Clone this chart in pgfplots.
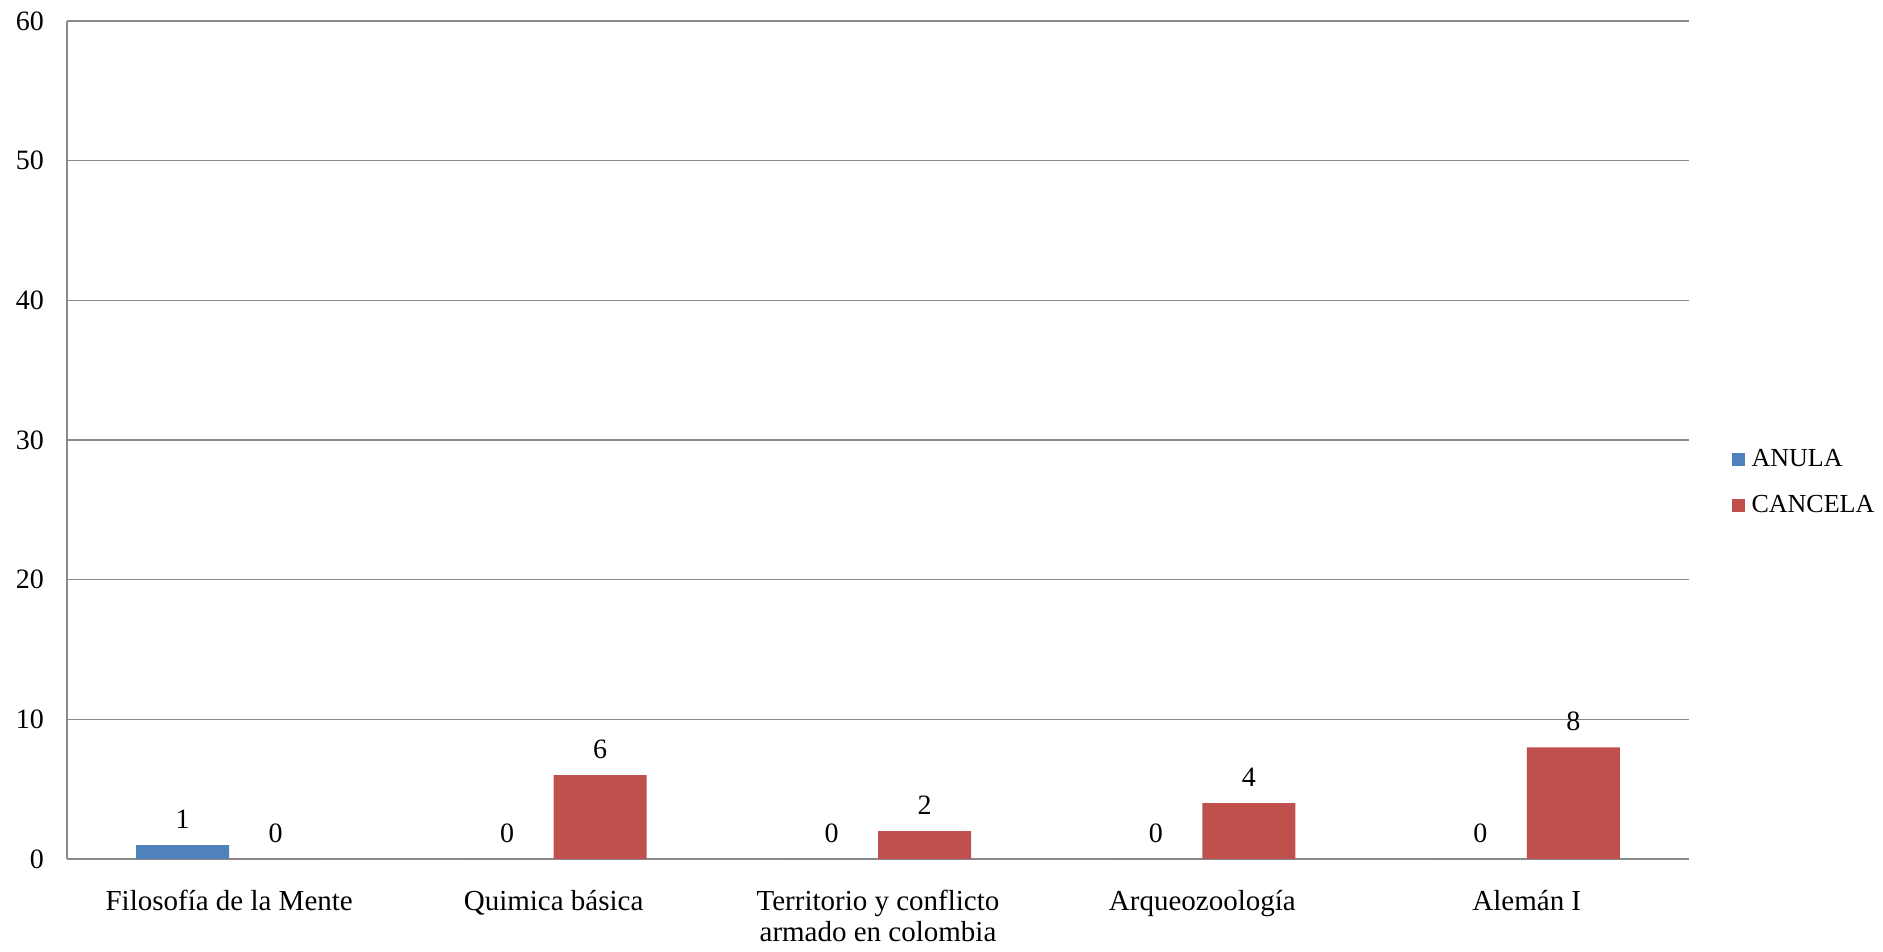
\documentclass[border=0pt]{standalone}
\usepackage{fontspec}
\setmainfont{Liberation Serif}
\usepackage{pgfplots}
\pgfplotsset{compat=1.18}
\definecolor{anula}{HTML}{4F81BD}
\definecolor{cancela}{HTML}{C0504D}
\definecolor{gridgray}{HTML}{8A8A8A}
\begin{document}
\begin{tikzpicture}
\path (-33.5pt,-46.5pt) rectangle (908pt,429.5pt);
\begin{axis}[
  at={(0pt,0pt)}, anchor=south west,
  scale only axis, width=811pt, height=419pt,
  ymin=0, ymax=60, ytick={0,10,...,60},
  xmin=-0.5, xmax=4.5, xtick={0,1,2,3,4},
  xticklabels={Filosofía de la Mente, Quimica básica, {Territorio y conflicto\\armado en colombia}, Arqueozoología, Alemán I},
  ybar=0pt, bar width=46.5pt,
  axis x line*=bottom, axis y line*=left,
  major tick length=0pt,
  ymajorgrids, grid style={gridgray, line width=0.75pt},
  axis line style={gridgray, line width=0.75pt},
  yticklabel style={font=\fontsize{14}{16}\selectfont, anchor=east, xshift=-8pt},
  xticklabel style={font=\fontsize{14.5}{15.5}\selectfont, align=center, anchor=north, yshift=-12pt},
  /pgf/number format/assume math mode=true,
  nodes near coords,
  every node near coord/.append style={anchor=center, yshift=13pt, font=\fontsize{14}{15}\selectfont},
  legend style={at={(1.026,0.449)}, anchor=west, draw=none, fill=none,
    font=\fontsize{13}{15}\selectfont, row sep=9pt, inner sep=0pt},
  legend cell align=left,
]
\addplot[fill=anula, draw=none, legend image code/.code={\fill[anula] (0pt,-3.25pt) rectangle (6.5pt,3.25pt); \path (0pt,0pt) -- (8pt,0pt);}]
  coordinates {(0,1) (1,0) (2,0) (3,0) (4,0)};
\addplot[fill=cancela, draw=none, legend image code/.code={\fill[cancela] (0pt,-3.25pt) rectangle (6.5pt,3.25pt); \path (0pt,0pt) -- (8pt,0pt);}]
  coordinates {(0,0) (1,6) (2,2) (3,4) (4,8)};
\legend{ANULA, CANCELA}
\end{axis}
\end{tikzpicture}
\end{document}
